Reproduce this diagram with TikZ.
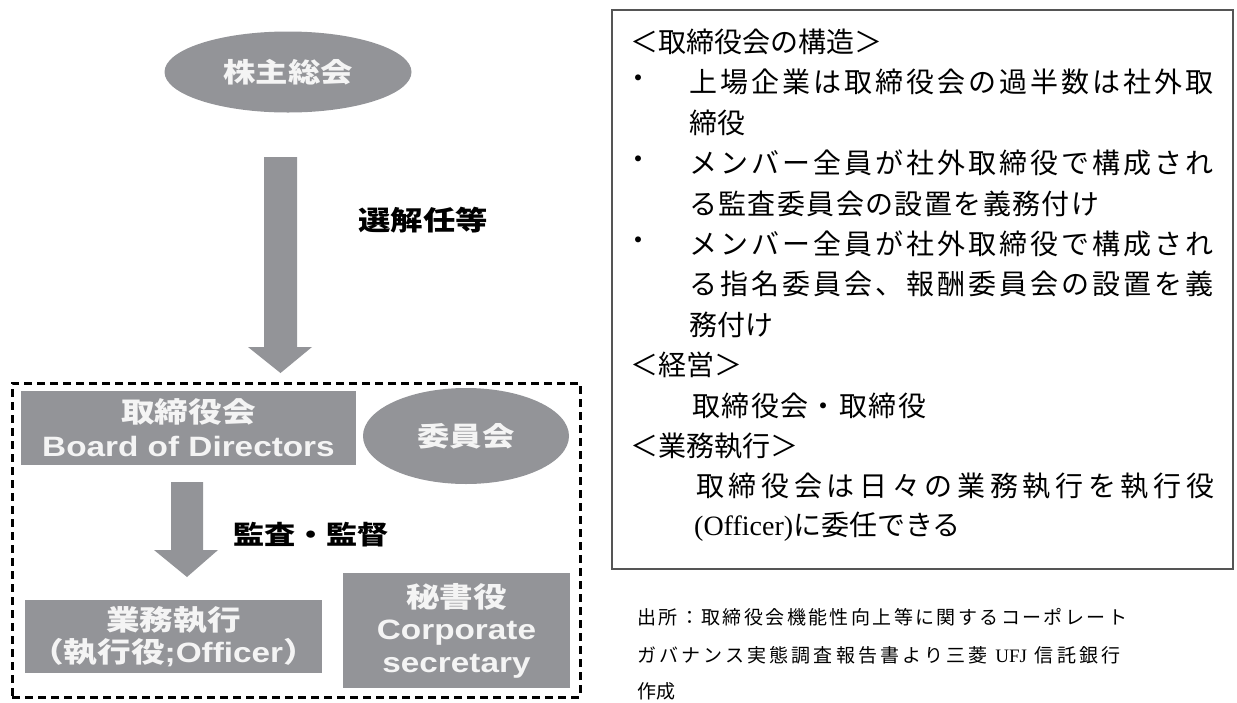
\documentclass[tikz,border=0pt]{standalone}
\usepackage{fontspec}
\usetikzlibrary{shapes.geometric}
\setmainfont{Liberation Serif}
\newfontfamily\jpr{Noto Sans CJK JP}
\newfontfamily\jpw[FakeStretch=1.2]{Noto Sans CJK JP}
\newfontfamily\lw[FakeStretch=1.19]{Liberation Sans}
\newfontfamily\tms{Liberation Serif}
\definecolor{boxgray}{HTML}{939498}
\definecolor{boxtext}{HTML}{F4F4F4}
\definecolor{framegray}{HTML}{555555}
\newcommand\bj{\jpw\bfseries}
\newcommand\bl{\lw\bfseries}
\newcommand\rtfont{\jpr\fontsize{28pt}{28pt}\selectfont}
\newcommand\fnfont{\jpr\fontsize{19pt}{19pt}\selectfont}
\newcommand\jus[2]{\makebox[#1][s]{\jusaux#2\relax}}
\def\jusaux#1{#1\futurelet\jnext\juscheck}
\def\juscheck{\ifx\jnext\relax\expandafter\jusgobble\else\hfill\expandafter\jusaux\fi}
\def\jusgobble#1{}
\tikzset{
  gbox/.style={rectangle, fill=boxgray, draw=none, inner sep=0pt, text=boxtext, align=center},
  gell/.style={ellipse, fill=boxgray, draw=none, inner sep=0pt, text=boxtext},
  blockarrow/.style={fill=boxgray, draw=none},
  dashframe/.style={draw=black, line width=3pt, dash pattern=on 8pt off 5pt, inner sep=0pt},
  infoframe/.style={draw=framegray, line width=1.2pt, inner sep=0pt},
  lbl/.style={inner sep=0pt, text=black, font=\jpw\bfseries\fontsize{27pt}{27pt}\selectfont},
  rt/.style={anchor=west, inner sep=0pt, font=\rtfont},
  fn/.style={anchor=west, inner sep=0pt, font=\fnfont}
}
\begin{document}
\begin{tikzpicture}[x=1pt,y=-1pt]
\useasboundingbox (0,0) rectangle (1237,702);
% ---------- left diagram ----------
\node[gell, minimum width=247pt, minimum height=81pt, font=\bj\fontsize{27pt}{27pt}\selectfont] (agm) at (288,72) {株主総会};
% big block arrow
\coordinate (a1top) at (280.5,157);
\coordinate (a1tip) at (280.5,373);
\fill[blockarrow] (264,157) -- (297,157) -- (297,347) -- (312,347) -- (a1tip) -- (248,347) -- (264,347) -- cycle;
\node[lbl] (elect) at (423,220) {選解任等};
% dashed frame
\node[dashframe, minimum width=568pt, minimum height=314pt] (frame) at (296,540) {};
\node[gbox, minimum width=335pt, minimum height=74pt, font=\fontsize{28pt}{34pt}\selectfont] (board) at (188.5,428)
  {{\bj 取締役会}\\{\bl Board of Directors}};
\node[gell, minimum width=206pt, minimum height=96pt, font=\bj\fontsize{27pt}{27pt}\selectfont] (comm) at (466,436) {委員会};
% small block arrow
\coordinate (a2tip) at (187,577);
\fill[blockarrow] (171,482) -- (203,482) -- (203,550) -- (218,550) -- (a2tip) -- (154,550) -- (171,550) -- cycle;
\node[lbl, font=\jpw\bfseries\fontsize{26pt}{26pt}\selectfont] (audit) at (311,535) {監査・監督};
\node[gbox, minimum width=297pt, minimum height=73pt, font=\fontsize{28pt}{32pt}\selectfont] (officer) at (173.5,636.5)
  {{\bj 業務執行}\\{\bj （執行役}{\bl ;Officer}{\bj ）}};
\node[gbox, minimum width=227pt, minimum height=115pt, font=\fontsize{28pt}{32.5pt}\selectfont] (secr) at (456.5,630.5)
  {{\bj 秘書役}\\{\bl Corporate}\\{\bl secretary}};
% ---------- right info box ----------
\node[infoframe, minimum width=621pt, minimum height=559pt] (info) at (922.5,289.5) {};
\node[rt] (l1) at (630,42) {＜取締役会の構造＞};
\node[rt] (b1) at (624,82) {・};
\node[rt] (l2) at (689,82) {\jus{524pt}{上場企業は取締役会の過半数は社外取}};
\node[rt] (l3) at (689,123) {締役};
\node[rt] (b2) at (624,163) {・};
\node[rt] (l4) at (689,163) {\jus{524pt}{メンバー全員が社外取締役で構成され}};
\node[rt] (l5) at (689,204) {\jus{410pt}{る監査委員会の設置を義務付け}};
\node[rt] (b3) at (624,244) {・};
\node[rt] (l6) at (689,244) {\jus{524pt}{メンバー全員が社外取締役で構成され}};
\node[rt] (l7) at (689,284) {\jus{524pt}{る指名委員会、報酬委員会の設置を義}};
\node[rt] (l8) at (689,325) {務付け};
\node[rt] (l9) at (630,365) {＜経営＞};
\node[rt] (l10) at (692,406) {\jus{234pt}{取締役会・取締役}};
\node[rt] (l11) at (630,446) {＜業務執行＞};
\node[rt] (l12) at (696,486) {\jus{518pt}{取締役会は日々の業務執行を執行役}};
\node[rt] (l13) at (694,527) {{\tms (Officer)}に委任できる};
% ---------- footnote ----------
\node[fn] (f1) at (637,617) {\jus{490pt}{出所：取締役会機能性向上等に関するコーポレート}};
\node[fn] (f2) at (637,655) {\jus{483pt}{ガバナンス実態調査報告書より三菱{{\tms\ UFJ\ }}信託銀行}};
\node[fn] (f3) at (637,691) {作成};
\end{tikzpicture}
\end{document}
